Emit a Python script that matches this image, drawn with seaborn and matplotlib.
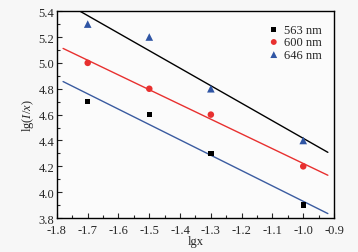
import numpy as np
import pandas as pd
import matplotlib
matplotlib.use("Agg")
import matplotlib.pyplot as plt
import seaborn as sns

# data
lgx = [-1.7, -1.5, -1.3, -1.0]
y_563 = [4.7, 4.6, 4.3, 3.9]
y_600 = [5.0, 4.8, 4.6, 4.2]
y_646 = [5.3, 5.2, 4.8, 4.4]
labels = ["563 nm", "600 nm", "646 nm"]
fit_range = [-1.78, -0.92]

sns.set_theme(style="ticks")
plt.rcParams["font.family"] = ["Liberation Serif", "DejaVu Serif"]
plt.rcParams["mathtext.fontset"] = "custom"
plt.rcParams["mathtext.rm"] = "Liberation Serif"
plt.rcParams["mathtext.it"] = "Liberation Serif:italic"

df = pd.DataFrame({
    "lgx": lgx * 3,
    "y": y_563 + y_600 + y_646,
    "series": np.repeat(labels, len(lgx)),
})

fig = plt.figure(figsize=(3.58, 2.53), dpi=100)
fig.patch.set_facecolor("#f7f7f7")
ax = fig.add_axes([0.159, 0.134, 0.774, 0.818])
ax.set_facecolor("#fbfbfb")

point_colors = {"563 nm": "black", "600 nm": "#e8302f", "646 nm": "#2f55a4"}
markers = {"563 nm": "s", "600 nm": "o", "646 nm": "^"}
sizes = {"563 nm": 15, "600 nm": 22, "646 nm": 30}
# fit lines are coloured differently from the points in the original
line_colors = {"563 nm": "#3a5ba0", "600 nm": "#e8302f", "646 nm": "black"}

xs = np.array(fit_range)
for name in labels:
    sub = df[df["series"] == name]
    k, b = np.polyfit(sub["lgx"], sub["y"], 1)
    ax.plot(xs, k * xs + b, color=line_colors[name], lw=1.0, zorder=2)
    sns.scatterplot(data=sub, x="lgx", y="y", color=point_colors[name],
                    marker=markers[name], s=sizes[name], edgecolor="none",
                    label=name, ax=ax, zorder=3)

ax.set_xlim(-1.8, -0.9)
ax.set_ylim(3.8, 5.4)
xt = np.arange(-1.8, -0.85, 0.1)
yt = np.arange(3.8, 5.45, 0.2)
ax.set_xticks(xt)
ax.set_xticklabels([f"{v:.1f}" for v in xt])
ax.set_yticks(yt)
ax.set_yticklabels([f"{v:.1f}" for v in yt])
ax.xaxis.set_minor_locator(matplotlib.ticker.AutoMinorLocator(2))
ax.yaxis.set_minor_locator(matplotlib.ticker.AutoMinorLocator(2))
ax.tick_params(which="both", direction="in", labelsize=9)
ax.tick_params(axis="x", pad=4.5)
ax.tick_params(axis="y", pad=2)
ax.tick_params(which="major", length=3.5, width=0.8)
ax.tick_params(which="minor", length=2, width=0.8)
for sp in ax.spines.values():
    sp.set_linewidth(1.0)
    sp.set_color("black")

ax.set_xlabel("lgx", fontsize=9, labelpad=-1)
ax.set_ylabel(r"lg($I$/$x$)", fontsize=9, labelpad=2)

leg = ax.legend(loc="upper right", frameon=False, fontsize=9, handletextpad=-0.2,
                labelspacing=0.05, borderaxespad=0.6, markerscale=0.9)

fig.savefig("out.png", dpi=100, facecolor=fig.get_facecolor())
